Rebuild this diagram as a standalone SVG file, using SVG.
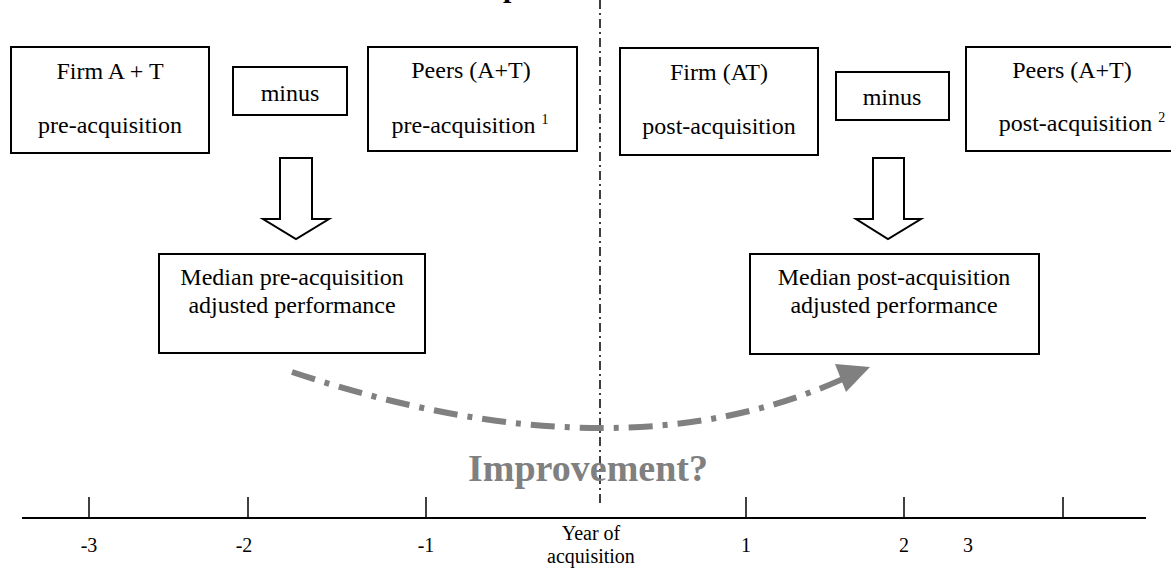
<svg xmlns="http://www.w3.org/2000/svg" width="1171" height="571" viewBox="0 0 1171 571">
<style>
.box{fill:#fff;stroke:#000;stroke-width:2}
.t{font-family:"Liberation Serif","Times New Roman",serif;font-size:24px;fill:#000;text-anchor:middle}
.sup{font-size:14px}
.ax{font-family:"Liberation Serif","Times New Roman",serif;font-size:20px;fill:#000;text-anchor:middle}
.blk{fill:#fff;stroke:#000;stroke-width:2;stroke-linejoin:miter}
</style>
<rect width="1171" height="571" fill="#fff"/>
<text x="503" y="-3" font-family="Liberation Serif, serif" font-weight="bold" font-size="30" fill="#000">p</text>
<g id="axis">
<line x1="22" y1="518" x2="1146" y2="518" stroke="#000" stroke-width="2"/>
<g stroke="#000" stroke-width="1.5">
<line x1="89" y1="497" x2="89" y2="518"/>
<line x1="248" y1="497" x2="248" y2="518"/>
<line x1="426" y1="497" x2="426" y2="518"/>
<line x1="746" y1="497" x2="746" y2="518"/>
<line x1="904" y1="497" x2="904" y2="518"/>
<line x1="1063" y1="497" x2="1063" y2="518"/>
</g>
<text class="ax" x="89" y="552">-3</text>
<text class="ax" x="244" y="552">-2</text>
<text class="ax" x="426" y="552">-1</text>
<text class="ax" x="591" y="540">Year of</text>
<text class="ax" x="591" y="563">acquisition</text>
<text class="ax" x="746" y="552">1</text>
<text class="ax" x="904" y="552">2</text>
<text class="ax" x="968" y="552">3</text>
</g>
<g id="divider">
<line x1="600" y1="0" x2="600" y2="505" stroke="#000" stroke-width="1.5" stroke-dasharray="9 4 2 4"/>
</g>
<g id="firm-pre">
<rect class="box" x="11" y="47" width="198" height="106"/>
<text class="t" x="110" y="79">Firm A + T</text>
<text class="t" x="110" y="133">pre-acquisition</text>
</g>
<g id="minus-pre">
<rect class="box" x="233" y="67" width="114" height="48"/>
<text class="t" x="290" y="101">minus</text>
</g>
<g id="peers-pre">
<rect class="box" x="368" y="47" width="209" height="104"/>
<text class="t" x="471" y="78">Peers (A+T)</text>
<text class="t" x="470" y="133">pre-acquisition <tspan class="sup" dy="-9">1</tspan></text>
</g>
<g id="firm-post">
<rect class="box" x="620" y="48" width="198" height="107"/>
<text class="t" x="719" y="80">Firm (AT)</text>
<text class="t" x="719" y="134">post-acquisition</text>
</g>
<g id="minus-post">
<rect class="box" x="836" y="72" width="113" height="48"/>
<text class="t" x="892" y="105">minus</text>
</g>
<g id="peers-post">
<rect class="box" x="966" y="47" width="220" height="104"/>
<text class="t" x="1072" y="78">Peers (A+T)</text>
<text class="t" x="1082" y="131">post-acquisition <tspan class="sup" dy="-9">2</tspan></text>
</g>
<g id="median-pre">
<rect class="box" x="159" y="254" width="266" height="99"/>
<text class="t" x="292" y="285">Median pre-acquisition</text>
<text class="t" x="292" y="313">adjusted performance</text>
</g>
<g id="median-post">
<rect class="box" x="750" y="254" width="289" height="100"/>
<text class="t" x="894" y="285">Median post-acquisition</text>
<text class="t" x="894" y="313">adjusted performance</text>
</g>
<g id="connectors">
<polygon class="blk" points="280,158 312,158 312,219 329,219 296,239 263,219 280,219"/>
<polygon class="blk" points="873,158 904,158 904,219 921,219 888,239 856,219 873,219"/>
<path d="M292 372 Q619 481 845 378" fill="none" stroke="#808080" stroke-width="6" stroke-dasharray="24 10 5 10"/>
<polygon points="835,364 870,367 846,392" fill="#808080"/>
</g>
<text x="588" y="481" font-family="Liberation Serif, serif" font-weight="bold" font-size="38" fill="#808080" text-anchor="middle">Improvement?</text>
</svg>
